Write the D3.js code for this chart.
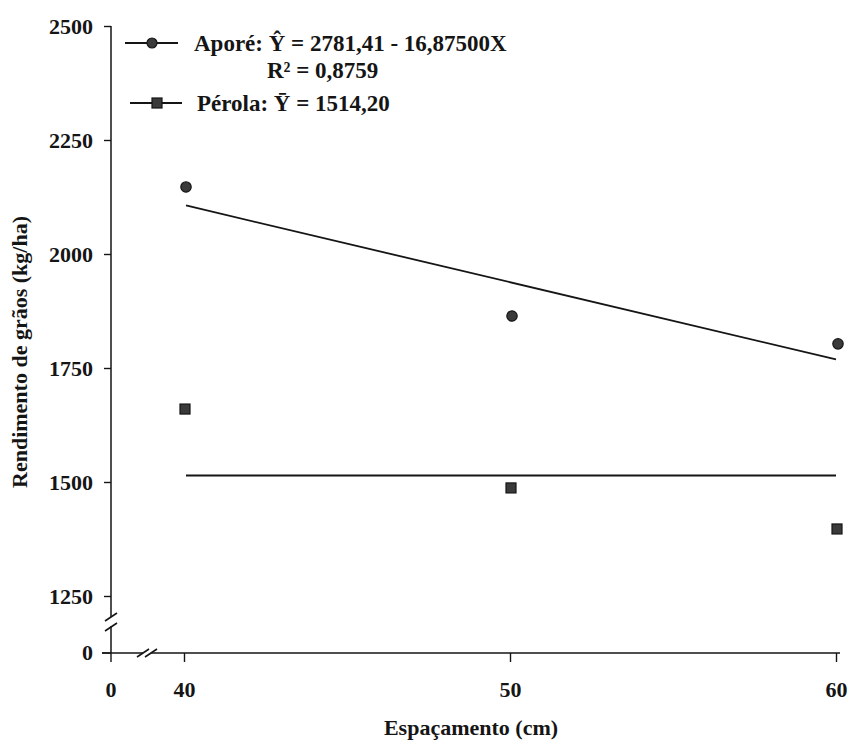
<!DOCTYPE html>
<html><head><meta charset="utf-8">
<script src="https://cdn.jsdelivr.net/npm/d3@7"></script>
<style>body{margin:0;background:#fff}</style>
</head><body><svg id="c" width="852" height="741" font-family="'Liberation Serif', 'Times New Roman', serif" font-weight="bold"></svg>
<script>
// ---- data ----
const spacing = [40, 50, 60];
const aporeValues = [2147, 1864, 1803];
const perolaValues = [1660, 1487, 1397];
const aporeIntercept = 2781.41, aporeSlope = -16.875;
const perolaMean = 1514.20;
const yTickValues = [1250, 1500, 1750, 2000, 2250, 2500];
const xTickValues = [40, 50, 60];
const legendApore = ["Aporé: ", "Ŷ", " = 2781,41 - 16,87500X"];
const legendR2 = "R² = 0,8759";
const legendPerola = ["Pérola: ", "Ȳ", " = 1514,20"];
const xTitle = "Espaçamento (cm)";
const yTitle = "Rendimento de grãos (kg/ha)";

// ---- layout ----
const svg = d3.select("#c");
const ink = "#151515";
const serifStack = "'Liberation Serif', 'Times New Roman', serif";
const axisX = 111, axisY = 653;      // broken-axis origin (0,0)
const x = d3.scaleLinear().domain([40, 60]).range([184, 836]);
const y = d3.scaleLinear().domain([1250, 2500]).range([596, 26]);
const fs = 22;
function styleText(sel, size) {
  sel.attr("font-family", serifStack).attr("font-weight", "bold").attr("font-size", size)
     .style("font-family", serifStack).style("font-weight", "bold").style("font-size", size + "px").style("fill", ink);
  return sel;
}

// Y axis
const gy = svg.append("g").attr("transform", `translate(${axisX},0)`)
  .call(d3.axisLeft(y).tickValues(yTickValues).tickSize(7).tickPadding(11).tickFormat(d3.format("d")));
gy.attr("font-family", serifStack).attr("font-size", fs);
gy.select(".domain").remove();
gy.selectAll(".tick line").attr("stroke", ink).attr("stroke-width", 1.4);
styleText(gy.selectAll(".tick text"), fs);
// zero tick on y
svg.append("line").attr("x1", axisX - 9).attr("x2", axisX).attr("y1", axisY).attr("y2", axisY).attr("stroke", ink).attr("stroke-width", 1.4);
styleText(svg.append("text").attr("x", axisX - 18).attr("y", axisY).attr("dy", "0.32em").attr("text-anchor", "end").text("0"), fs);
svg.append("line").attr("x1", axisX).attr("x2", axisX).attr("y1", y(2500)).attr("y2", axisY).attr("stroke", ink).attr("stroke-width", 1.5);

// X axis
const gx = svg.append("g").attr("transform", `translate(0,${axisY})`)
  .call(d3.axisBottom(x).tickValues(xTickValues).tickSize(9).tickPadding(19).tickFormat(d3.format("d")));
gx.attr("font-family", serifStack).attr("font-size", fs);
gx.select(".domain").remove();
gx.selectAll(".tick line").attr("stroke", ink).attr("stroke-width", 1.4);
styleText(gx.selectAll(".tick text"), fs);
svg.append("line").attr("x1", axisX).attr("x2", axisX).attr("y1", axisY).attr("y2", axisY + 9).attr("stroke", ink).attr("stroke-width", 1.4);
styleText(svg.append("text").attr("x", axisX).attr("y", axisY + 28).attr("dy", "0.71em").attr("text-anchor", "middle").text("0"), fs);
svg.append("line").attr("x1", axisX - 9).attr("x2", x(60) + 4).attr("y1", axisY).attr("y2", axisY).attr("stroke", ink).attr("stroke-width", 1.5);

// break marks
function slash(cx, cy) {
  svg.append("line").attr("x1", cx - 6).attr("x2", cx + 6).attr("y1", cy + 4).attr("y2", cy - 4)
    .attr("stroke", ink).attr("stroke-width", 1.6);
}
svg.append("rect").attr("x", axisX - 2).attr("y", 617).attr("width", 4).attr("height", 9).attr("fill", "#fff");
slash(axisX, 617); slash(axisX, 627);
svg.append("rect").attr("x", 143).attr("y", axisY - 2).attr("width", 8).attr("height", 4).attr("fill", "#fff");
slash(143, axisY); slash(151, axisY);

// regression lines
const x0 = spacing[0], x1 = spacing[spacing.length - 1];
svg.append("line").attr("x1", x(x0) + 2).attr("x2", x(x1))
  .attr("y1", y(aporeIntercept + aporeSlope * x0)).attr("y2", y(aporeIntercept + aporeSlope * x1))
  .attr("stroke", ink).attr("stroke-width", 1.8);
svg.append("line").attr("x1", x(x0) + 2).attr("x2", x(x1))
  .attr("y1", y(perolaMean)).attr("y2", y(perolaMean))
  .attr("stroke", ink).attr("stroke-width", 1.8);

// points
svg.selectAll("circle.ap").data(spacing).join("circle").attr("class", "ap")
  .attr("cx", d => x(d) + 2).attr("cy", (d, i) => y(aporeValues[i])).attr("r", 5.2)
  .attr("fill", "#3a3a3a").attr("stroke", ink).attr("stroke-width", 1.2);
svg.selectAll("rect.pe").data(spacing).join("rect").attr("class", "pe")
  .attr("x", d => x(d) + 1 - 5).attr("y", (d, i) => y(perolaValues[i]) - 5).attr("width", 10).attr("height", 10)
  .attr("fill", "#3a3a3a").attr("stroke", ink).attr("stroke-width", 1.2);

// legend
const lfs = 23;
svg.append("line").attr("x1", 125).attr("x2", 178).attr("y1", 43).attr("y2", 43).attr("stroke", ink).attr("stroke-width", 1.8);
svg.append("circle").attr("cx", 152).attr("cy", 43).attr("r", 5).attr("fill", "#3a3a3a").attr("stroke", ink).attr("stroke-width", 1.2);
const t1 = styleText(svg.append("text").attr("x", 194).attr("y", 51), lfs);
t1.append("tspan").text(legendApore[0]);
t1.append("tspan").text(legendApore[1]);
t1.append("tspan").text(legendApore[2]);
styleText(svg.append("text").attr("x", 267).attr("y", 78).text(legendR2), lfs);
svg.append("line").attr("x1", 130).attr("x2", 182).attr("y1", 103).attr("y2", 103).attr("stroke", ink).attr("stroke-width", 1.8);
svg.append("rect").attr("x", 152).attr("y", 98).attr("width", 10).attr("height", 10).attr("fill", "#3a3a3a").attr("stroke", ink).attr("stroke-width", 1.2);
const t2 = styleText(svg.append("text").attr("x", 197).attr("y", 111), lfs);
t2.append("tspan").text(legendPerola[0]);
t2.append("tspan").text(legendPerola[1]);
t2.append("tspan").text(legendPerola[2]);

// titles
styleText(svg.append("text").attr("x", 471).attr("y", 735).attr("text-anchor", "middle").text(xTitle), 22);
styleText(svg.append("text").attr("transform", "translate(27,352) rotate(-90)").attr("text-anchor", "middle").text(yTitle), 22);
</script>
</body></html>
